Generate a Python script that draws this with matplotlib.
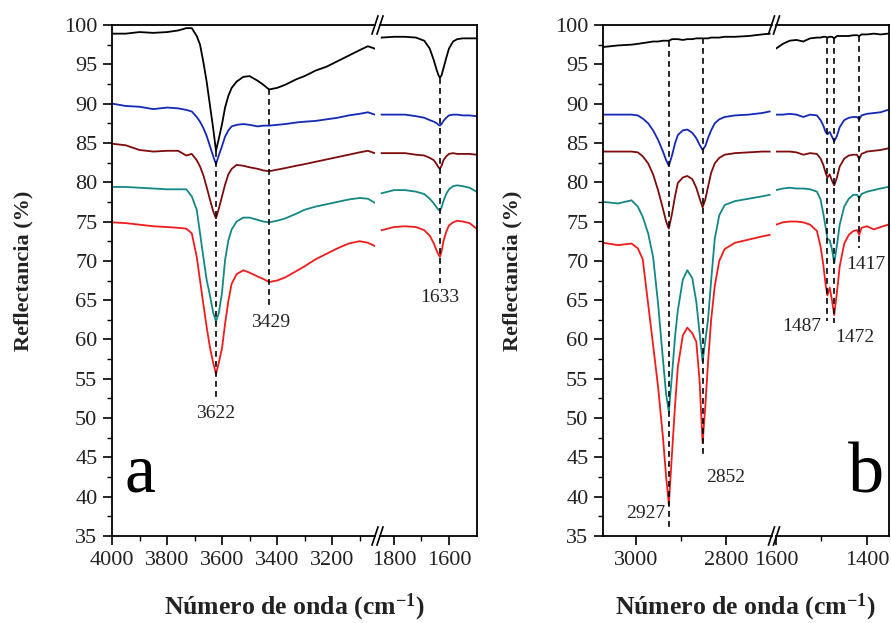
import matplotlib.pyplot as plt
from matplotlib.lines import Line2D
from matplotlib.ticker import MultipleLocator, FixedLocator

plt.rcParams['font.family'] = ['Liberation Serif', 'DejaVu Serif']
plt.rcParams['mathtext.default'] = 'regular'

# ---- panel a : O-H region (4000-3045) ----
wn_a1 = [4000, 3950, 3900, 3850, 3800, 3760, 3730, 3710, 3692, 3680, 3668, 3656, 3644, 3632, 3622,
         3612, 3600, 3589, 3577, 3565, 3547, 3523, 3500, 3470, 3450, 3429, 3400, 3370, 3330, 3300,
         3260, 3220, 3180, 3140, 3100, 3070, 3045]
black_a1 = [98.9, 98.9, 99.1, 99.0, 99.1, 99.3, 99.6, 99.6, 98.6, 97.5, 95.3, 92.8, 89.8, 86.8, 84.0,
            85.5, 87.4, 89.5, 91.0, 92.0, 92.8, 93.4, 93.5, 92.9, 92.4, 91.8, 92.0, 92.4, 93.1, 93.5,
            94.2, 94.7, 95.4, 96.1, 96.8, 97.3, 97.0]
blue_a1 = [90.0, 89.7, 89.6, 89.3, 89.5, 89.4, 89.2, 89.0, 88.3, 87.7, 86.9, 85.9, 84.6, 83.3, 82.3,
           83.4, 84.6, 85.8, 86.6, 87.1, 87.3, 87.4, 87.3, 87.1, 87.2, 87.2, 87.3, 87.4, 87.6, 87.7,
           87.8, 88.0, 88.2, 88.5, 88.7, 88.9, 88.6]
wine_a1 = [84.9, 84.7, 84.1, 83.9, 84.0, 84.0, 83.4, 83.6, 82.8, 82.0, 80.9, 79.4, 77.8, 76.3, 75.4,
           76.6, 78.2, 79.7, 81.0, 81.7, 82.2, 82.1, 81.9, 81.7, 81.5, 81.4, 81.6, 81.8, 82.1, 82.3,
           82.6, 82.9, 83.2, 83.5, 83.8, 84.0, 83.7]
teal_a1 = [79.4, 79.4, 79.3, 79.2, 79.1, 79.1, 79.1, 78.2, 76.5, 73.5, 70.5, 67.6, 65.6, 63.4, 62.3,
           63.3, 66.0, 70.1, 72.6, 74.0, 75.0, 75.5, 75.5, 75.2, 75.0, 74.9, 75.1, 75.4, 76.0, 76.5,
           76.9, 77.2, 77.5, 77.8, 78.0, 77.9, 77.4]
red_a1 = [74.9, 74.8, 74.6, 74.4, 74.3, 74.2, 74.1, 73.5, 70.5, 67.5, 64.5, 61.6, 59.0, 57.0, 55.6,
          57.0, 58.9, 62.0, 64.9, 67.1, 68.3, 68.8, 68.5, 68.0, 67.7, 67.3, 67.5, 67.9, 68.7, 69.3,
          70.2, 70.9, 71.6, 72.2, 72.5, 72.3, 71.9]

# ---- panel a : 1845-1500 ----
wn_a2 = [1845, 1800, 1760, 1720, 1690, 1670, 1655, 1645, 1638, 1633, 1627, 1620, 1610, 1600, 1585,
         1570, 1550, 1525, 1500]
black_a2 = [98.4, 98.5, 98.5, 98.4, 98.0, 97.0, 95.5, 94.3, 93.6, 93.3, 93.6, 94.5, 95.8, 97.0, 97.9,
            98.2, 98.3, 98.3, 98.3]
blue_a2 = [88.6, 88.6, 88.6, 88.4, 88.2, 87.9, 87.7, 87.5, 87.3, 87.2, 87.4, 87.8, 88.2, 88.5, 88.6,
           88.6, 88.5, 88.5, 88.4]
wine_a2 = [83.7, 83.7, 83.7, 83.5, 83.4, 83.1, 82.8, 82.3, 81.9, 81.7, 82.1, 82.8, 83.3, 83.6, 83.7,
           83.6, 83.6, 83.6, 83.5]
teal_a2 = [78.6, 79.0, 79.0, 78.8, 78.5, 77.9, 77.3, 76.8, 76.5, 76.4, 76.8, 77.6, 78.5, 79.1, 79.5,
           79.6, 79.5, 79.3, 78.8]
red_a2 = [73.9, 74.3, 74.4, 74.3, 73.9, 73.2, 72.2, 71.3, 70.8, 70.5, 71.2, 72.5, 73.7, 74.5, 74.9,
          75.1, 75.0, 74.8, 74.1]

# ---- panel b : C-H region (3073-2703) ----
wn_b1 = [3073, 3040, 3010, 2996, 2985, 2973, 2962, 2951, 2940, 2933, 2927, 2920, 2913, 2907, 2896,
         2886, 2875, 2866, 2859, 2852, 2846, 2840, 2833, 2825, 2815, 2803, 2780, 2750, 2720, 2703]
black_b1 = [97.2, 97.4, 97.5, 97.6, 97.7, 97.8, 97.9, 97.9, 98.0, 98.0, 98.0, 98.2, 98.2, 98.2, 98.1,
            98.2, 98.2, 98.3, 98.3, 98.3, 98.3, 98.3, 98.4, 98.4, 98.4, 98.5, 98.5, 98.6, 98.8, 98.9]
blue_b1 = [88.6, 88.6, 88.6, 88.5, 88.1, 87.5, 86.6, 85.4, 83.9, 82.8, 82.1, 83.4, 85.0, 86.0, 86.6,
           86.7, 86.3, 85.6, 84.8, 84.1, 84.6, 85.6, 86.6, 87.5, 88.0, 88.3, 88.5, 88.6, 88.8, 89.0]
wine_b1 = [83.9, 83.9, 83.9, 83.8, 83.3, 82.4, 81.0, 79.0, 76.6, 75.0, 74.1, 76.0, 78.3, 79.9, 80.6,
           80.8, 80.4, 79.3, 78.0, 76.8, 77.8, 79.4, 81.2, 82.4, 83.1, 83.5, 83.7, 83.8, 83.9, 83.9]
teal_b1 = [77.5, 77.3, 77.7, 76.9, 75.6, 73.5, 70.5, 64.6, 57.4, 53.0, 50.8, 55.5, 60.5, 63.7, 67.6,
           68.8, 67.8, 64.8, 61.0, 57.2, 59.8, 62.5, 67.5, 72.8, 75.8, 77.1, 77.6, 77.9, 78.2, 78.4]
red_b1 = [72.3, 72.0, 72.2, 71.6, 70.2, 64.5, 59.3, 54.0, 47.5, 42.5, 39.0, 45.5, 51.8, 56.5, 60.5,
          61.5, 60.8, 59.7, 55.0, 46.8, 51.5, 57.0, 62.5, 66.8, 70.0, 71.5, 72.3, 72.7, 73.1, 73.3]

# ---- panel b : 1600-1354 ----
wn_b2 = [1600, 1585, 1570, 1555, 1540, 1525, 1510, 1502, 1496, 1491, 1487, 1482, 1477, 1472, 1466,
         1460, 1450, 1440, 1430, 1422, 1417, 1412, 1400, 1385, 1370, 1354]
black_b2 = [97.0, 97.6, 98.0, 98.1, 97.9, 98.3, 98.4, 98.4, 98.5, 98.5, 98.4, 98.5, 98.5, 98.3, 98.6,
            98.6, 98.6, 98.6, 98.7, 98.7, 98.6, 98.8, 98.8, 98.9, 98.8, 98.9]
blue_b2 = [88.6, 88.6, 88.7, 88.6, 88.3, 88.6, 88.5, 87.9, 87.2, 86.4, 86.1, 86.4, 85.8, 85.2, 85.9,
           87.0, 87.9, 88.2, 88.3, 88.3, 88.0, 88.5, 88.7, 88.8, 88.9, 89.2]
wine_b2 = [83.9, 83.9, 83.9, 83.8, 83.5, 83.7, 83.6, 83.0, 82.2, 81.2, 80.6, 81.0, 80.2, 79.6, 80.6,
           82.0, 83.0, 83.4, 83.5, 83.5, 83.0, 83.6, 83.9, 84.0, 84.1, 84.3]
teal_b2 = [79.0, 79.2, 79.3, 79.2, 79.2, 79.1, 78.8, 77.8, 76.0, 74.3, 72.8, 72.6, 71.5, 69.7, 72.0,
           74.6, 76.9, 77.9, 78.4, 78.4, 78.0, 78.5, 78.8, 79.0, 79.2, 79.4]
red_b2 = [74.6, 74.9, 75.0, 75.0, 74.9, 74.6, 73.8, 71.8, 69.5, 67.0, 65.6, 66.6, 65.0, 63.1, 66.0,
          69.3, 72.2, 73.3, 73.8, 73.9, 73.3, 74.2, 74.4, 74.0, 74.3, 74.6]

peaks_a = [3622, 3429, 1633]
peaks_b = [2927, 2852, 1487, 1472, 1417]

colors = ['#000000', '#1428b4', '#7d0b0b', '#138786', '#ee1c1c']

W, H = 891, 623
fig = plt.figure(figsize=(W / 100, H / 100), dpi=100)
TOP, BOT = 25, 536


def make_pair(l1, r1, l2, r2, lim1, lim2):
    ax1 = fig.add_axes([l1 / W, 1 - BOT / H, (r1 - l1) / W, (BOT - TOP) / H])
    ax2 = fig.add_axes([l2 / W, 1 - BOT / H, (r2 - l2) / W, (BOT - TOP) / H], sharey=ax1)
    ax1.set_xlim(*lim1)
    ax2.set_xlim(*lim2)
    ax1.set_ylim(35, 100)
    ax1.spines['right'].set_visible(False)
    ax2.spines['left'].set_visible(False)
    for ax in (ax1, ax2):
        for s in ax.spines.values():
            s.set_linewidth(1.3)
        ax.tick_params(which='major', direction='out', length=6.5, width=1.2,
                       labelsize=16, pad=4, labelcolor='#222222', top=False, right=False)
        ax.tick_params(which='minor', direction='out', length=3.5, width=1.0,
                       top=False, right=False)
    ax2.tick_params(axis='y', which='both', left=False, labelleft=False)
    ax1.yaxis.set_major_locator(MultipleLocator(5))
    ax1.yaxis.set_minor_locator(MultipleLocator(2.5))
    return ax1, ax2


def break_marks(cx):
    for y in (TOP, BOT):
        for dx in (-2.5, 2.5):
            fig.add_artist(Line2D([(cx + dx - 3) / W, (cx + dx + 3) / W],
                                  [1 - (y + 9) / H, 1 - (y - 9) / H], color='k', lw=1.2))


def draw(ax, wn, series):
    for ys, c in zip(series, colors):
        ax.plot(wn, ys, color=c, lw=1.3)


def dash(ax, x, top, bottom):
    ax.plot([x, x], [top, bottom], color='k', lw=1.2, ls=(0, (3.5, 2.5)), zorder=3)


# panel a
a1, a2 = make_pair(112, 375, 380, 477, (4000, 3044), (1851, 1498))
a1.xaxis.set_major_locator(FixedLocator([4000, 3800, 3600, 3400, 3200]))
a1.xaxis.set_minor_locator(FixedLocator([3900, 3700, 3500, 3300, 3100]))
a2.xaxis.set_major_locator(FixedLocator([1800, 1600]))
a2.xaxis.set_minor_locator(FixedLocator([1700]))
draw(a1, wn_a1, [black_a1, blue_a1, wine_a1, teal_a1, red_a1])
draw(a2, wn_a2, [black_a2, blue_a2, wine_a2, teal_a2, red_a2])
break_marks(377.5)

dash(a1, peaks_a[0], black_a1[wn_a1.index(peaks_a[0])], 52.6)
dash(a1, peaks_a[1], black_a1[wn_a1.index(peaks_a[1])], 64.4)
dash(a2, peaks_a[2], black_a2[wn_a2.index(peaks_a[2])], 67.2)
lab = dict(fontsize=14, color='#222222', ha='center', va='center')
a1.text(peaks_a[0], 50.6, str(peaks_a[0]), **lab)
a1.text(3425, 62.1, str(peaks_a[1]), **lab)
a2.text(peaks_a[2], 65.3, str(peaks_a[2]), **lab)
a1.text(3898, 40.6, 'a', fontsize=50, ha='center', va='baseline')

# panel b
b1, b2 = make_pair(603, 772, 776, 889, (3073.3, 2697.8), (1600, 1351.6))
b1.xaxis.set_major_locator(FixedLocator([3000, 2800]))
b1.xaxis.set_minor_locator(FixedLocator([2900]))
b2.xaxis.set_major_locator(FixedLocator([1600, 1400]))
b2.xaxis.set_minor_locator(FixedLocator([1500]))
draw(b1, wn_b1, [black_b1, blue_b1, wine_b1, teal_b1, red_b1])
draw(b2, wn_b2, [black_b2, blue_b2, wine_b2, teal_b2, red_b2])
break_marks(774)

dash(b1, peaks_b[0], black_b1[wn_b1.index(peaks_b[0])], 36.2)
dash(b1, peaks_b[1], black_b1[wn_b1.index(peaks_b[1])], 44.9)
dash(b2, peaks_b[2], black_b2[wn_b2.index(peaks_b[2])], 62.4)
dash(b2, peaks_b[3], black_b2[wn_b2.index(peaks_b[3])], 62.1)
dash(b2, peaks_b[4], black_b2[wn_b2.index(peaks_b[4])], 71.6)
b1.text(2979, 37.9, str(peaks_b[0]), **lab)
b1.text(2800, 42.4, str(peaks_b[1]), **lab)
b2.text(1543, 61.7, str(peaks_b[2]), **lab)
b2.text(1427, 60.3, str(peaks_b[3]), **lab)
b2.text(1402, 69.5, str(peaks_b[4]), **lab)
b2.text(1402, 40.5, 'b', fontsize=52, ha='center', va='baseline')

# axis titles
for cx in (23, 512):
    fig.text(cx / W, 1 - 271 / H, 'Reflectancia (%)', rotation=90, fontsize=16,
             fontweight='bold', ha='center', va='center', color='#222222')
for cx in (294, 745):
    fig.text(cx / W, 1 - 607 / H, 'Número de onda (cm$^{-1}$)', fontsize=18.5,
             fontweight='bold', ha='center', va='center', color='#222222')

fig.savefig('out.png', dpi=100)
